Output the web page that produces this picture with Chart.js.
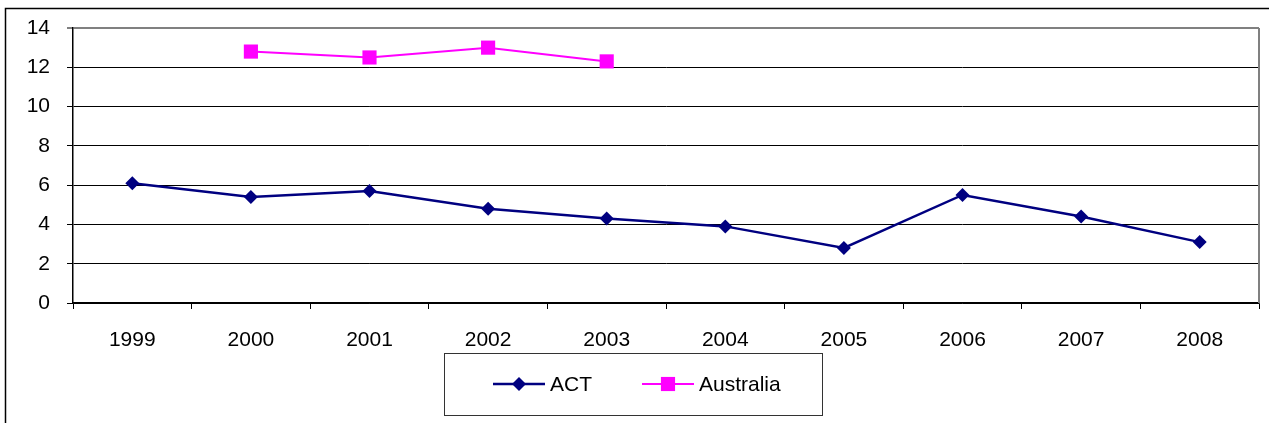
<!DOCTYPE html>
<html>
<head>
<meta charset="utf-8">
<script src="https://cdn.jsdelivr.net/npm/chart.js@4/dist/chart.umd.min.js"></script>
<style>
  html, body { margin: 0; padding: 0; background: #fff; }
  #wrap { width: 1269px; height: 423px; position: relative; }
</style>
</head>
<body>
<div id="wrap"><canvas id="c" width="1269" height="423"></canvas></div>
<script>
const years = ['1999', '2000', '2001', '2002', '2003', '2004', '2005', '2006', '2007', '2008'];
const actValues = [6.1, 5.4, 5.7, 4.8, 4.3, 3.9, 2.8, 5.5, 4.4, 3.1];
const australiaValues = [null, 12.8, 12.5, 13.0, 12.3, null, null, null, null, null];
const seriesNames = ['ACT', 'Australia'];

const FONT = { family: 'Arial, "Liberation Sans", sans-serif', size: 21 };

// Outer frame, plot-area right border and boxed legend
const framePlugin = {
  id: 'frame',
  afterDraw(chart) {
    const ctx = chart.ctx;
    const a = chart.chartArea;
    ctx.save();
    // outer chart frame
    ctx.strokeStyle = '#000';
    ctx.lineWidth = 1.5;
    ctx.beginPath();
    ctx.moveTo(5.5, 423);
    ctx.lineTo(5.5, 8.5);
    ctx.lineTo(1269, 8.5);
    ctx.stroke();
    // plot area right edge
    ctx.strokeStyle = '#808080';
    ctx.lineWidth = 2;
    ctx.beginPath();
    ctx.moveTo(a.right, a.top);
    ctx.lineTo(a.right, a.bottom);
    ctx.stroke();

    // legend box
    const bx = 444, by = 353, bw = 378, bh = 62;
    ctx.strokeStyle = '#333';
    ctx.lineWidth = 1;
    ctx.strokeRect(bx + 0.5, by + 0.5, bw, bh);

    const cy = by + 31;
    const starts = [493, 642];
    chart.data.datasets.forEach((ds, i) => {
      const x0 = starts[i];
      ctx.strokeStyle = ds.borderColor;
      ctx.lineWidth = ds.borderWidth;
      ctx.beginPath();
      ctx.moveTo(x0, cy);
      ctx.lineTo(x0 + 52, cy);
      ctx.stroke();
      ctx.fillStyle = ds.pointBackgroundColor;
      const mx = x0 + 26;
      ctx.beginPath();
      if (ds.pointStyle === 'rectRot') {
        const r = ds.pointRadius;
        ctx.moveTo(mx, cy - r);
        ctx.lineTo(mx + r, cy);
        ctx.lineTo(mx, cy + r);
        ctx.lineTo(mx - r, cy);
        ctx.closePath();
      } else {
        const s = ds.pointRadius * Math.SQRT1_2;
        ctx.rect(mx - s, cy - s, 2 * s, 2 * s);
      }
      ctx.fill();
      ctx.fillStyle = '#000';
      ctx.font = FONT.size + 'px ' + FONT.family;
      ctx.textBaseline = 'middle';
      ctx.textAlign = 'left';
      ctx.fillText(ds.label, x0 + 57, cy + 1);
    });
    ctx.restore();
  }
};

new Chart(document.getElementById('c'), {
  type: 'line',
  data: {
    labels: years,
    datasets: [
      {
        label: seriesNames[0],
        data: actValues,
        borderColor: '#000080',
        backgroundColor: '#000080',
        pointBackgroundColor: '#000080',
        pointBorderColor: '#000080',
        borderWidth: 2.5,
        pointStyle: 'rectRot',
        pointRadius: 7,
        pointBorderWidth: 0,
        tension: 0
      },
      {
        label: seriesNames[1],
        data: australiaValues,
        borderColor: '#FF00FF',
        backgroundColor: '#FF00FF',
        pointBackgroundColor: '#FF00FF',
        pointBorderColor: '#FF00FF',
        borderWidth: 2,
        pointStyle: 'rect',
        pointRadius: 10,
        pointBorderWidth: 0,
        spanGaps: false,
        tension: 0
      }
    ]
  },
  options: {
    responsive: false,
    animation: false,
    devicePixelRatio: 1,
    layout: { padding: { top: 28, right: 0, left: 0, bottom: 0 } },
    plugins: {
      legend: { display: false },
      tooltip: { enabled: false },
      title: { display: false }
    },
    scales: {
      x: {
        offset: true,
        grid: {
          offset: true,
          drawOnChartArea: false,
          drawTicks: true,
          tickLength: 6,
          color: '#000',
          lineWidth: 1
        },
        border: { color: '#000', width: 1.5 },
        ticks: { color: '#000', font: FONT, padding: 19, maxRotation: 0 },
        afterFit(scale) {
          scale.height = 120;
          scale.paddingLeft = 0;
          scale.paddingRight = 0;
        }
      },
      y: {
        min: 0,
        max: 14,
        ticks: { stepSize: 2, color: '#000', font: FONT, padding: 17 },
        grid: {
          color: (c) => (c.tick && c.tick.value === 14 ? '#808080' : '#000'),
          lineWidth: (c) => (c.tick && c.tick.value === 14 ? 2 : 1),
          tickLength: 6,
          drawTicks: true
        },
        border: { color: '#000', width: 1.5 },
        afterFit(scale) {
          scale.width = 73;
          scale.paddingTop = 0;
          scale.paddingBottom = 0;
        }
      }
    }
  },
  plugins: [framePlugin]
});
</script>
</body>
</html>
